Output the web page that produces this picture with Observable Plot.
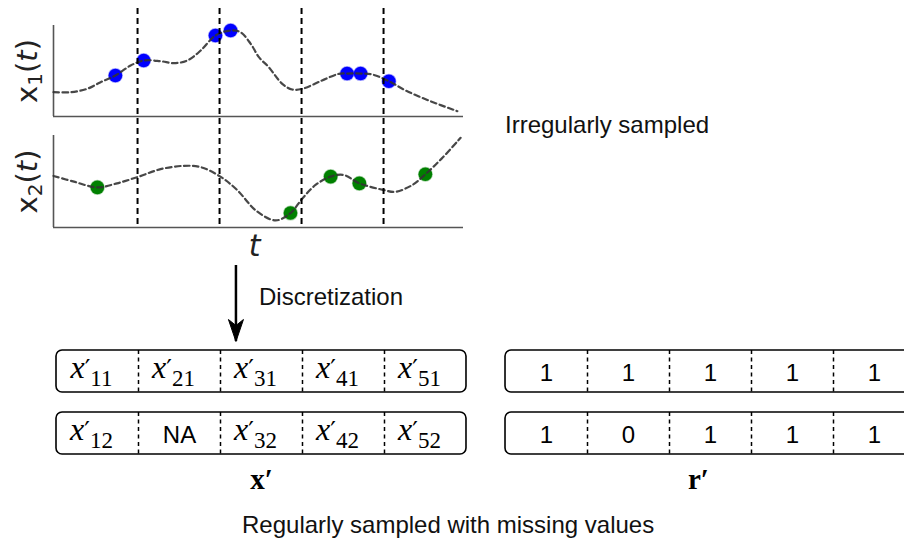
<!DOCTYPE html>
<html><head><meta charset="utf-8">
<script src="https://cdn.jsdelivr.net/npm/d3@7"></script>
<script src="https://cdn.jsdelivr.net/npm/@observablehq/plot@0.6"></script>
<style>
html,body{margin:0;padding:0;background:#fff;}
#c{position:relative;width:904px;height:539px;overflow:hidden;background:#fff;}
#c svg{position:absolute;left:0;top:0;}
.lbl{position:absolute;font-family:"Liberation Sans",Arial,sans-serif;font-size:24px;line-height:1;color:#111;white-space:nowrap;}
</style></head><body>
<div id="c"></div>
<script>
// ---------- data ----------
// continuous signal x1(t) (dashed curve)
const x1CurveT = [-0.05, 0.37, 0.77, 1.10, 1.46, 1.83, 2.15, 2.56, 2.89, 3.21, 3.54, 3.90, 4.27, 4.51, 4.76, 4.96, 5.20, 5.53, 5.77, 6.02, 6.50, 6.91, 7.11, 7.44, 7.72, 8.13, 8.54, 9.10, 9.80];
const x1CurveV = [2.67, 2.67, 3.04, 3.77, 4.51, 5.60, 6.15, 6.08, 5.86, 6.15, 7.25, 8.90, 9.45, 9.26, 7.99, 6.52, 5.42, 3.59, 2.97, 3.04, 3.96, 4.69, 4.72, 4.72, 4.62, 3.88, 2.86, 1.76, 0.58];
// irregular samples of x1
const x1SampleT = [1.46, 2.15, 3.90, 4.27, 7.11, 7.44, 8.13];
const x1SampleV = [4.51, 6.15, 8.90, 9.45, 4.72, 4.72, 3.88];
// continuous signal x2(t)
const x2CurveT = [-0.05, 0.45, 1.02, 1.50, 2.03, 2.56, 3.13, 3.54, 4.02, 4.43, 4.90, 5.37, 5.73, 6.02, 6.34, 6.71, 7.03, 7.41, 8.01, 8.29, 8.70, 9.02, 9.43, 9.88];
const x2CurveV = [5.60, 4.98, 4.36, 4.80, 5.53, 6.34, 6.70, 6.56, 5.53, 4.07, 1.80, 0.77, 1.57, 3.15, 4.62, 5.53, 5.71, 4.80, 4.07, 3.88, 4.62, 5.79, 7.55, 9.75];
// irregular samples of x2
const x2SampleT = [1.02, 5.73, 6.71, 7.41, 9.02];
const x2SampleV = [4.36, 1.57, 5.53, 4.80, 5.79];
// discretization bin edges on the t axis
const binEdges = [2, 4, 6, 8];
const arrowT = 4.4;
// discretized matrix x' and mask r'
const groups = ["x′", "r′"];
const rowNames = ["1", "2"];
const xPrimeRow1 = ["x′11", "x′21", "x′31", "x′41", "x′51"];
const xPrimeRow2 = ["x′12", "NA", "x′32", "x′42", "x′52"];
const maskRow1 = [1, 1, 1, 1, 1];
const maskRow2 = [1, 0, 1, 1, 1];
// texts
const yLabels = ["x1(t)", "x2(t)"];
const tLabel = "t";
const titleIrregular = "Irregularly sampled";
const titleDiscretization = "Discretization";
const titleRegular = "Regularly sampled with missing values";

// ---------- build ----------
const root = document.getElementById("c");
const W = 470;
const tDomain = [-0.05, 9.95];
const baseStyle = {background: "transparent", overflow: "visible", maxWidth: "none"};
const zip = (a, b) => a.map((t, i) => ({t, v: b[i]}));

function panel(curve, samples, color, label, marginTop, height, marginBottom, extraMarks = []) {
  return Plot.plot({
    width: W, height, marginTop, marginBottom, marginLeft: 53, marginRight: 7,
    style: baseStyle,
    x: {domain: tDomain, axis: null},
    y: {domain: [0, 10], axis: null},
    marks: [
      Plot.ruleX([tDomain[0]], {stroke: "#555", strokeWidth: 1.6}),
      Plot.ruleY([0], {stroke: "#555", strokeWidth: 1.6}),
      Plot.dot(samples, {x: "t", y: "v", r: 6.8, fill: color, stroke: color, strokeOpacity: 0.35, strokeWidth: 1.5}),
      Plot.line(curve, {x: "t", y: "v", curve: "catmull-rom", stroke: "#333", strokeOpacity: 0.9, strokeWidth: 2.2, strokeDasharray: "5.5,3.5"}),
      Plot.text([label], {frameAnchor: "left", textAnchor: "middle", lineAnchor: "middle", dx: -25.5, rotate: -90, fontSize: 29, fontFamily: "DejaVu Sans", fill: "#222"}),
      ...extraMarks
    ]
  });
}

const p1 = panel(zip(x1CurveT, x1CurveV), zip(x1SampleT, x1SampleV), "#0000ff", yLabels[0], 25, 120, 4);
const p2 = panel(zip(x2CurveT, x2CurveV), zip(x2SampleT, x2SampleV), "#008000", yLabels[1], 135, 265, 38,
  [Plot.text([tLabel], {frameAnchor: "bottom", textAnchor: "middle", lineAnchor: "middle", dy: 19, dx: -4, fontSize: 30, fontStyle: "italic", fontFamily: "DejaVu Sans", fill: "#222"})]);

const rules = Plot.plot({
  width: W, height: 228, marginTop: 8, marginBottom: 2, marginLeft: 53, marginRight: 7,
  style: baseStyle,
  x: {domain: tDomain, axis: null},
  y: {domain: [0, 1], axis: null},
  marks: [Plot.ruleX(binEdges, {stroke: "#000", strokeWidth: 2, strokeDasharray: "6,4"})]
});

const arrowHead = {draw(ctx) { ctx.moveTo(0, 0); ctx.lineTo(-7.5, -22); ctx.lineTo(0, -16); ctx.lineTo(7.5, -22); ctx.closePath(); }};
const arrow = Plot.plot({
  width: W, height: 345, marginTop: 265, marginBottom: 4, marginLeft: 53, marginRight: 7,
  style: baseStyle,
  x: {domain: tDomain, axis: null},
  y: {domain: [0, 1], axis: null},
  marks: [
    Plot.ruleX([arrowT], {stroke: "#000", strokeWidth: 2.5}),
    Plot.dot([arrowT], {x: d => d, frameAnchor: "bottom", symbol: arrowHead, r: 10, fill: "#000", stroke: "#000", strokeWidth: 1})
  ]
});

// tables for the boxes
const nCells = xPrimeRow1.length;
const contents = {"x′": [xPrimeRow1, xPrimeRow2], "r′": [maskRow1.map(String), maskRow2.map(String)]};
const rowsData = [], dividers = [], cells = [];
for (const g of groups) {
  rowNames.forEach((r, ri) => {
    rowsData.push({group: g, row: r});
    for (let k = 1; k < nCells; ++k) dividers.push({group: g, row: r, x: k});
    contents[g][ri].forEach((label, i) => cells.push({group: g, row: r, i, label, math: /^x′/.test(label)}));
  });
}

const groupLabelStyle = {frameAnchor: "bottom", textAnchor: "middle", lineAnchor: "top", dy: 14, fontSize: 29, fontWeight: "bold", fontFamily: "Liberation Serif", fill: "#000"};
const boxes = Plot.plot({
  width: 920, height: 170, marginTop: 10, marginBottom: 56, marginLeft: 56, marginRight: 5,
  style: {...baseStyle, top: "340px"},
  fx: {domain: groups, paddingInner: 0.0869, paddingOuter: 0, round: false, axis: null},
  x: {domain: [0, nCells], axis: null},
  y: {domain: rowNames, paddingInner: 0.3226, paddingOuter: 0, round: false, axis: null},
  marks: [
    Plot.barX(rowsData, {fx: "group", y: "row", x1: d => 0, x2: d => nCells, fill: "none", stroke: "#000", strokeWidth: 1.6, rx: 6}),
    Plot.tickX(dividers, {fx: "group", y: "row", x: "x", stroke: "#000", strokeWidth: 1.5, strokeDasharray: "4,3.5"}),
    Plot.text(cells.filter(d => d.math), {fx: "group", y: "row", x: d => d.i + 0.5, text: "label", dx: -6, dy: -4, fontSize: 32, fontFamily: "Liberation Serif", fill: "#000"}),
    Plot.text(cells.filter(d => !d.math), {fx: "group", y: "row", x: d => d.i + 0.5, text: "label", dy: 2, fontSize: 24, fontFamily: "Liberation Sans", fill: "#000"}),
    Plot.text(groups.slice(0, 1), {fx: d => d, text: d => d, ...groupLabelStyle}),
    Plot.text(groups.slice(1), {fx: d => d, text: d => d, dx: -12, ...groupLabelStyle})
  ]
});

for (const svg of [p1, p2, rules, arrow, boxes]) root.appendChild(svg);

// typeset sub/superscripts as tspans
const NS = "http://www.w3.org/2000/svg";
function tspan(parent, str, attrs) {
  const s = document.createElementNS(NS, "tspan");
  for (const k in attrs) s.setAttribute(k, attrs[k]);
  s.textContent = str;
  parent.appendChild(s);
}
root.querySelectorAll("text").forEach(t => {
  const s = t.textContent;
  let m = s.match(/^x′(\d\d)$/);
  if (m) {
    t.textContent = "";
    tspan(t, "x", {"font-style": "italic"});
    tspan(t, "′", {"font-size": "25", "font-family": "DejaVu Sans", dy: "-1"});
    tspan(t, m[1], {"font-size": "23", dy: "9"});
    return;
  }
  m = s.match(/^x(\d)\(t\)$/);
  if (m) {
    t.textContent = "";
    tspan(t, "x", {});
    tspan(t, m[1], {"font-size": "20", dy: "5"});
    tspan(t, "(", {dy: "-5"});
    tspan(t, "t", {"font-style": "italic"});
    tspan(t, ")", {});
  }
});

// free-standing annotations
function label(text, left, top) {
  const d = document.createElement("div");
  d.className = "lbl";
  d.style.left = left + "px";
  d.style.top = top + "px";
  d.textContent = text;
  root.appendChild(d);
}
label(titleIrregular, 505, 112.7);
label(titleDiscretization, 259, 284.7);
label(titleRegular, 242, 512.7);
</script>
</body></html>
